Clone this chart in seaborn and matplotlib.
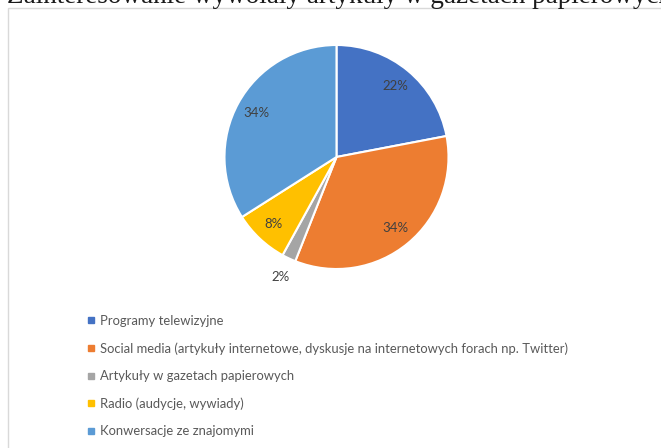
import matplotlib
matplotlib.use("Agg")
import matplotlib.pyplot as plt
from matplotlib.lines import Line2D
from matplotlib.patches import Rectangle
import numpy as np
import seaborn as sns

# Source categories and their shares (%)
categories = [
    "Programy telewizyjne",
    "Social media (artykuły internetowe, dyskusje na internetowych forach np. Twitter)",
    "Artykuły w gazetach papierowych",
    "Radio (audycje, wywiady)",
    "Konwersacje ze znajomymi",
]
shares = [22, 34, 2, 8, 34]
colors = ["#4472C4", "#ED7D31", "#A5A5A5", "#FFC000", "#5B9BD5"]
heading = "Zainteresowanie wywołały artykuły w gazetach papierowych"

sns.set_theme(style="white")
plt.rcParams["font.family"] = ["Lato", "DejaVu Sans"]

W, H = 661, 448
fig = plt.figure(figsize=(W / 100, H / 100), dpi=100)
fig.patch.set_facecolor("white")

# Heading line from the surrounding document, partly above the frame
fig.text(7 / W, 1 - 3.2 / H, heading, family=["Liberation Serif"], fontsize=19.5,
         color="#1a1a1a", va="baseline", ha="left")

# Chart frame
fig.add_artist(Rectangle((7.5 / W, -0.2), 1.2, 1.2 - 8.5 / H,
                         transform=fig.transFigure, fill=False,
                         edgecolor="#D9D9D9", linewidth=1.0))

# Pie axes: centre and radius in pixels
cx, cy, r = 336.5, 157, 112
ax = fig.add_axes([(cx - r) / W, (H - cy - r) / H, 2 * r / W, 2 * r / H])
wedges, texts, autotexts = ax.pie(
    shares, colors=colors, startangle=90, counterclock=False,
    autopct=lambda p: f"{p:.0f}%", pctdistance=0.82, radius=1,
    wedgeprops=dict(edgecolor="white", linewidth=1.5),
    textprops=dict(color="#404040", fontsize=9.5),
)
# small slice label sits outside the pie
theta = np.deg2rad(90 - 360 * (sum(shares[:2]) + shares[2] / 2) / 100)
autotexts[2].set_position((1.18 * np.cos(theta), 1.18 * np.sin(theta)))
ax.set_xlim(-1, 1)
ax.set_ylim(-1, 1)
ax.set_aspect("equal")
ax.axis("off")

handles = [Line2D([], [], marker="s", linestyle="none", markersize=5,
                  markerfacecolor=c, markeredgecolor=c) for c in colors]
fig.legend(handles, categories, loc="upper left",
           bbox_to_anchor=(80 / W, 1 - 308.5 / H), frameon=False,
           fontsize=9.4, labelcolor="#595959", handlelength=0.65,
           handletextpad=0.4, labelspacing=1.17, borderpad=0)

fig.savefig("out.png", dpi=100)
